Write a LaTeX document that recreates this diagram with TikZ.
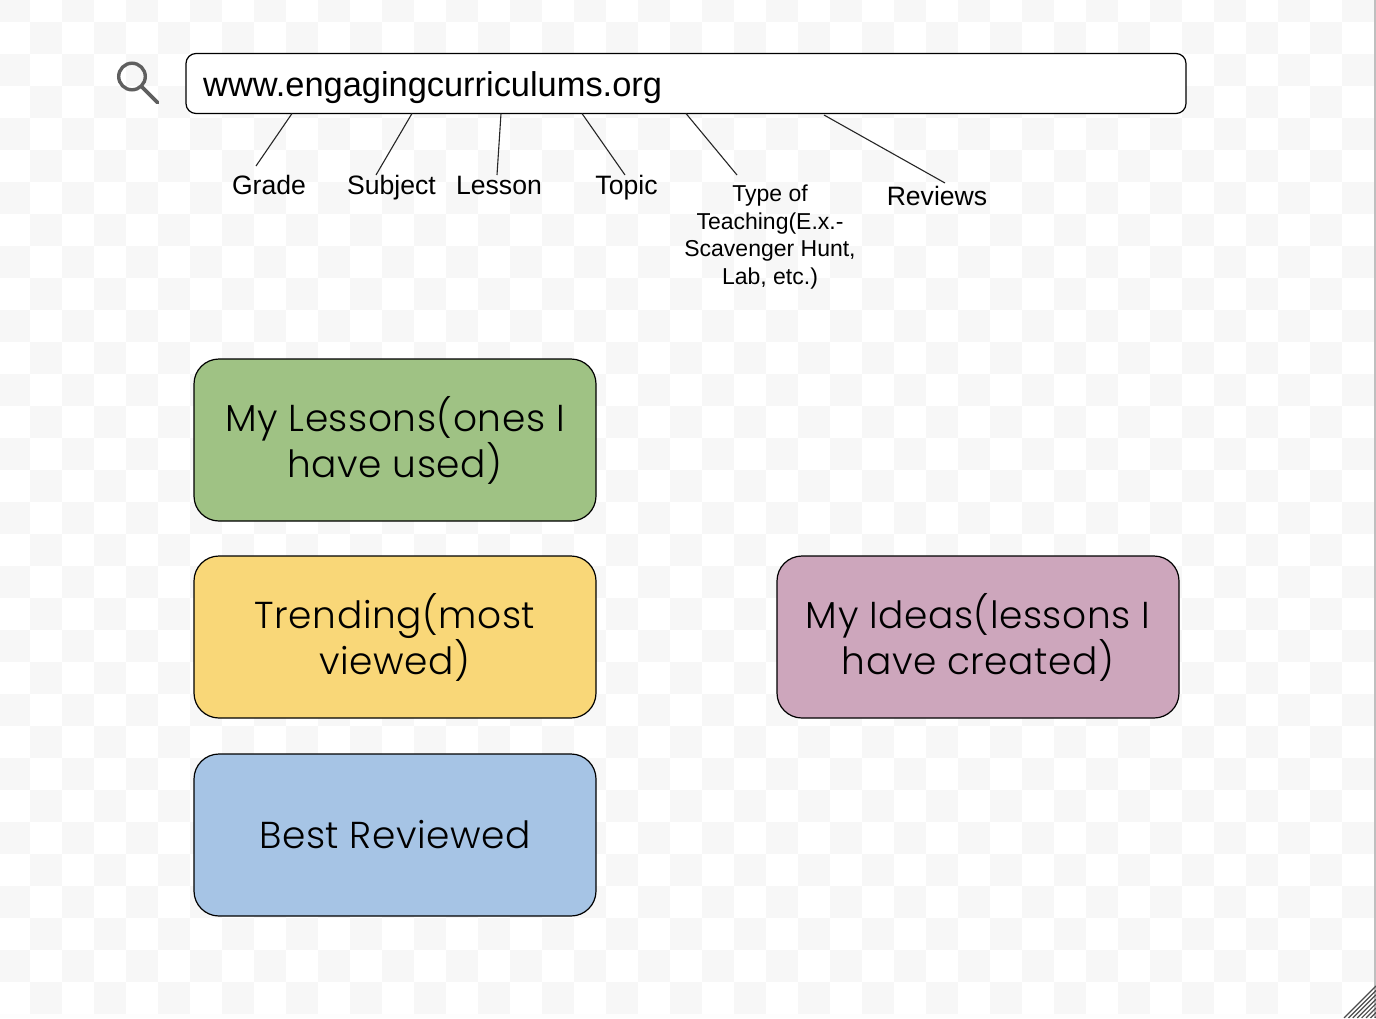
\documentclass[tikz,border=0pt]{standalone}
\usepackage{fontspec}
\setmainfont{Liberation Sans}
\newfontfamily\boxfont[LetterSpace=1.5]{Poppins Light}
\definecolor{chk}{HTML}{F7F7F7}
\definecolor{greenb}{HTML}{9FC284}
\definecolor{yellowb}{HTML}{F9D778}
\definecolor{pinkb}{HTML}{CDA6BC}
\definecolor{blueb}{HTML}{A6C4E5}
\definecolor{edgeline}{HTML}{262626}
\definecolor{glass}{HTML}{5F5F5F}
\tikzset{
  cardbox/.style={draw=black,line width=1.2pt,rounded corners=25pt,minimum width=402pt,minimum height=162pt,inner sep=0pt,anchor=center},
  cardtext/.style={inner sep=0pt,anchor=base,font=\boxfont\fontsize{37.5}{46}\selectfont,text=black},
  lab/.style={inner sep=0pt,anchor=base,font=\fontsize{26.6}{28}\selectfont,text=black},
  smalllab/.style={inner sep=0pt,anchor=base,font=\fontsize{23}{27}\selectfont,text=black},
  conn/.style={draw=edgeline,line width=1.1pt},
}
\begin{document}
\begin{tikzpicture}[x=1pt,y=-1pt]
\useasboundingbox (0,0) rectangle (1376,1018);
\fill[white] (0,0) rectangle (1376,1018);
\begin{scope}
\clip (0,0) rectangle (1374,1016);
\foreach \i in {0,...,43}{\foreach \j in {0,...,32}{
  \pgfmathtruncatemacro{\s}{mod(\i+\j,2)}
  \ifnum\s=0 \fill[chk] ({-2+32*\i},{-10+32*\j}) rectangle ++(32,32); \fi
}}
\end{scope}
\fill[white!80!chk] (0,1014) rectangle (1374,1018);
\draw[line width=1.5pt,black!25] (1375,0) -- (1375,1018);
% resize grip
\begin{scope}
\clip (1340,1018) -- (1376,982) -- (1376,1018) -- cycle;
\foreach \k in {0,...,8}{\draw[line width=1.2pt,black!70] ({1344+\k*4.4},1018) -- (1376,{986+\k*4.4});}
\end{scope}
% magnifier
\draw[glass,line width=3.4pt] (132,76.5) circle (13.3);
\draw[glass,line width=3.8pt,line cap=round] (142,87) -- (157.5,102.5);
% url
\node[draw=black,line width=1.2pt,rounded corners=10pt,minimum width=1000pt,minimum height=60pt,inner sep=0pt,fill=white] (url) at (686,83.5) {};
\node[anchor=base west,inner sep=0pt,font=\fontsize{34.4}{40}\selectfont] (urltext) at (203,96.2) {www.engagingcurriculums.org};
% labels
\node[lab] (grade) at (269,194) {Grade};
\node[lab] (subject) at (391.5,194) {Subject};
\node[lab] (lesson) at (499,194) {Lesson};
\node[lab] (topic) at (626.5,194) {Topic};
\node[smalllab] (type1) at (770,201.5) {Type of};
\node[smalllab] (type2) at (770,229) {Teaching(E.x.-};
\node[smalllab] (type3) at (770,256.5) {Scavenger Hunt,};
\node[smalllab] (type4) at (770,284) {Lab, etc.)};
\node[lab] (reviews) at (937,205) {Reviews};
\coordinate (u1) at (292,113.5); \coordinate (e1) at (256,166);
\coordinate (u2) at (412,113.5); \coordinate (e2) at (376,175);
\coordinate (u3) at (501,113.5); \coordinate (e3) at (497,175);
\coordinate (u4) at (582,113.5); \coordinate (e4) at (625,175);
\coordinate (u5) at (686,113.5); \coordinate (e5) at (737,175);
\coordinate (u6) at (824,115); \coordinate (e6) at (945,183);
\foreach \n in {1,...,6}{\draw[conn] (u\n) -- (e\n);}
% cards
\node[cardbox,fill=greenb] (lessons) at (395,440) {};
\node[cardbox,fill=yellowb] (trending) at (395,637) {};
\node[cardbox,fill=blueb] (best) at (395,835) {};
\node[cardbox,fill=pinkb] (ideas) at (978,637) {};
\node[cardtext] (t1) at (395,431) {My Lessons(ones I};
\node[cardtext] (t2) at (395,477) {have used)};
\node[cardtext] (t3) at (395,628) {Trending(most};
\node[cardtext] (t4) at (395,674) {viewed)};
\node[cardtext] (t5) at (395,848) {Best Reviewed};
\node[cardtext] (t6) at (978,628) {My Ideas(lessons I};
\node[cardtext] (t7) at (978,674) {have created)};
\end{tikzpicture}
\end{document}
